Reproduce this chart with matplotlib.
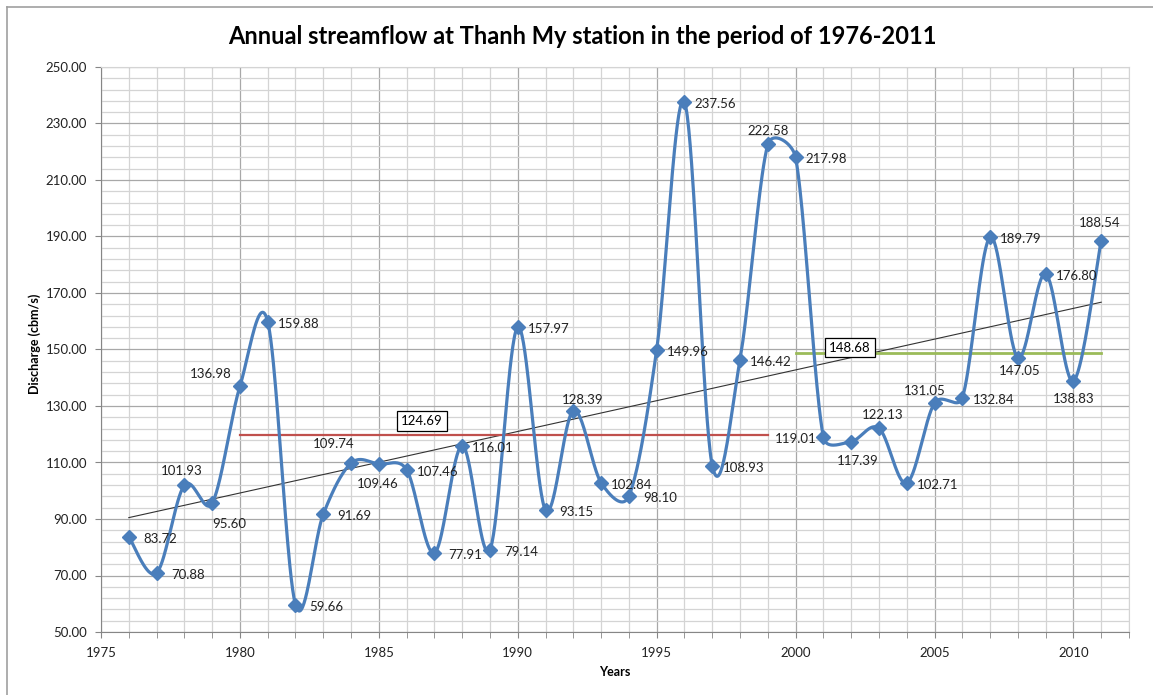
import numpy as np
import matplotlib.pyplot as plt
from matplotlib.lines import Line2D
from matplotlib.ticker import FixedLocator, MultipleLocator, FormatStrFormatter

plt.rcParams['font.family'] = ['Lato', 'DejaVu Sans']

years = list(range(1976, 2012))
discharge = [83.72, 70.88, 101.93, 95.60, 136.98, 159.88, 59.66, 91.69, 109.74, 109.46,
             107.46, 77.91, 116.01, 79.14, 157.97, 93.15, 128.39, 102.84, 98.10, 149.96,
             237.56, 108.93, 146.42, 222.58, 217.98, 119.01, 117.39, 122.13, 102.71, 131.05,
             132.84, 189.79, 147.05, 176.80, 138.83, 188.54]

# period averages (red line sits lower in the original than its label says)
period1 = (1980, 1999)
period1_level = 119.7
period1_label = "124.69"
period2 = (2000, 2011)
period2_level = 148.68
period2_label = "148.68"

# label offsets in pixels (dx, dy downward); default is to the right
label_offsets = {
    1978: (-3, -14), 1979: (17, 21), 1980: (-29, -12), 1984: (-17, -19), 1985: (-1, 20),
    1992: (9, -11), 1999: (0, -13), 2001: (-28, 2), 2002: (7, 19), 2003: (4, -13),
    2005: (-10, -12), 2008: (2, 13), 2010: (0, 18), 2011: (-2, -18),
}


def smooth_curve(pts, n=40):
    # Excel-like smoothed line: Catmull-Rom bezier in screen space,
    # control arm limited to half the segment length
    p = np.vstack([pts[0], pts, pts[-1]])
    t = np.linspace(0, 1, n)[:, None]
    out = []
    for i in range(1, len(p) - 2):
        p0, p1, p2, p3 = p[i - 1], p[i], p[i + 1], p[i + 2]
        half = np.linalg.norm(p2 - p1) / 2
        a1 = (p2 - p0) / 6
        a2 = (p3 - p1) / 6
        if np.linalg.norm(a1) > half:
            a1 = a1 * half / np.linalg.norm(a1)
        if np.linalg.norm(a2) > half:
            a2 = a2 * half / np.linalg.norm(a2)
        c1 = p1 + a1
        c2 = p2 - a2
        b = (1 - t) ** 3 * p1 + 3 * (1 - t) ** 2 * t * c1 + 3 * (1 - t) * t ** 2 * c2 + t ** 3 * p2
        out.append(b)
    return np.vstack(out)


fig = plt.figure(figsize=(11.53, 6.95), dpi=100)
ax = fig.add_axes([101 / 1153, 63 / 695, 1028 / 1153, 565 / 695])

ax.set_xlim(1975, 2012)
ax.set_ylim(50, 250)
ax.xaxis.set_major_locator(MultipleLocator(5))
ax.xaxis.set_minor_locator(MultipleLocator(1))
ax.yaxis.set_major_locator(FixedLocator(np.arange(50, 251, 20)))
ax.yaxis.set_minor_locator(FixedLocator(np.arange(50, 251, 4)))
ax.yaxis.set_major_formatter(FormatStrFormatter('%.2f'))
ax.grid(True, which='major', color='#a8a8a8', lw=0.9)
ax.grid(True, which='minor', color='#d4d4d4', lw=0.9)
ax.set_axisbelow(True)
for s in ['top', 'right']:
    ax.spines[s].set_color('#d4d4d4')
for s in ['left', 'bottom']:
    ax.spines[s].set_color('#868686')
ax.tick_params(which='both', direction='out', colors='#868686', labelcolor='#222222',
               labelsize=9.5, length=4)
ax.tick_params(axis='x', which='major', pad=6.5)
ax.tick_params(axis='y', which='major', pad=6)
ax.tick_params(axis='y', which='minor', length=0)

# trend line
coef = np.polyfit(years, discharge, 1)
tx = np.array([years[0], years[-1]])
ax.plot(tx, np.polyval(coef, tx), color='#333333', lw=0.8, zorder=3)

# period means
ax.plot(period1, [period1_level] * 2, color='#c0504d', lw=1.6, zorder=3)
ax.plot(period2, [period2_level] * 2, color='#9bbb59', lw=2.0, zorder=3)
ax.text(1986.56, 124.69, period1_label, ha='center', va='center', fontsize=9.5,
        bbox=dict(boxstyle='square,pad=0.3', fc='white', ec='black', lw=0.9), zorder=6)
ax.text(2001.96, 150.7, period2_label, ha='center', va='center', fontsize=9.5,
        bbox=dict(boxstyle='square,pad=0.3', fc='white', ec='black', lw=0.9), zorder=6)

# smoothed series, built in screen space then mapped back to data
screen = ax.transData.transform(np.column_stack([years, discharge]))
curve = ax.transData.inverted().transform(smooth_curve(screen))
ax.plot(curve[:, 0], curve[:, 1], color='#4a7ebb', lw=2.3, zorder=4)
ax.plot(years, discharge, ls='none', marker='D', ms=7, color='#4a7ebb', zorder=5)

for yr, v in zip(years, discharge):
    dx, dy = label_offsets.get(yr, (31, 2))
    ax.annotate(f"{v:.2f}", (yr, v), xytext=(dx, -dy), textcoords='offset pixels',
                ha='center', va='center', fontsize=9.5, color='#222222', zorder=6)

fig.text(0.505, 0.948, "Annual streamflow at Thanh My station in the period of 1976-2011",
         ha='center', va='center', fontsize=17, fontweight='bold')
fig.text(35 / 1153, 1 - 344 / 695, "Discharge (cbm/s)", rotation=90, ha='center',
         va='center', fontsize=9, fontweight='bold')
fig.text(615 / 1153, 1 - 672 / 695, "Years", ha='center', va='center', fontsize=9,
         fontweight='bold')

# chart border (only top and left show in the crop)
fig.add_artist(Line2D([7 / 1153, 7 / 1153], [0, 1 - 7 / 695], color='#a0a0a0', lw=1.2))
fig.add_artist(Line2D([7 / 1153, 1], [1 - 7 / 695, 1 - 7 / 695], color='#a0a0a0', lw=1.2))

fig.savefig('out.png', dpi=100)
